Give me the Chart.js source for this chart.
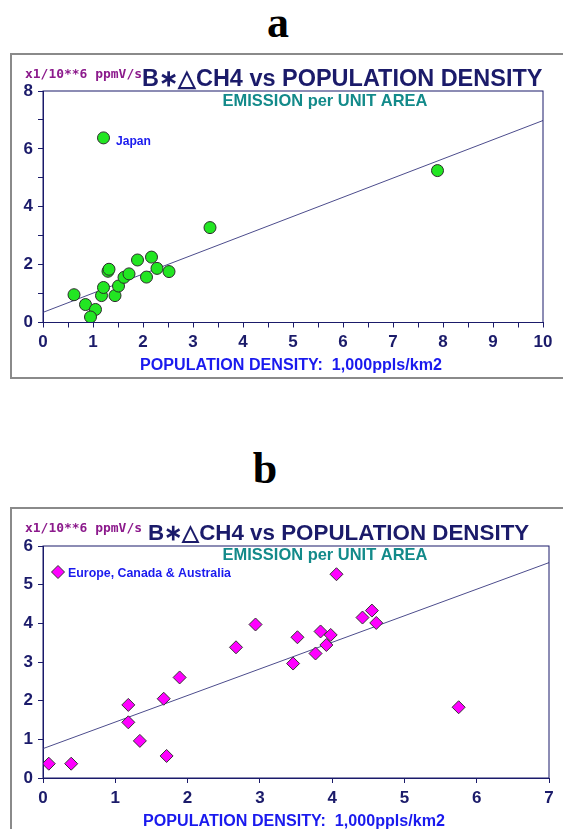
<!DOCTYPE html>
<html>
<head>
<meta charset="utf-8">
<script src="https://cdn.jsdelivr.net/npm/chart.js@4.4.1/dist/chart.umd.min.js"></script>
<style>
  body { margin: 0; background: #fff; width: 563px; height: 829px; overflow: hidden; position: relative; }
  .panel-label { position: absolute; width: 60px; text-align: center; font: bold 44px "Liberation Serif", serif; color: #000; }
  .frame { position: absolute; left: 10px; width: 600px; border: 2px solid #8a8a8a; box-sizing: border-box; }
  .plot { position: absolute; left: 0; width: 563px; }
</style>
</head>
<body>

<div class="panel-label" style="left:248px; top:-3px;">a</div>
<div class="panel-label" style="left:235px; top:443px;">b</div>

<div class="frame" style="top:53px; height:326px;"></div>
<div class="frame" style="top:507px; height:400px;"></div>

<div class="plot" style="top:0; height:400px;"><canvas id="chartA"></canvas></div>
<div class="plot" style="top:454px; height:375px;"><canvas id="chartB"></canvas></div>

<script>
// ---------- data ----------

// panel a: Japan + Asia, x = 1,000 ppl/km2, y = x1/10**6 ppmV/s
const densityA = [1.21, 7.89, 3.34, 0.62, 0.85, 1.05, 0.95, 1.17, 1.21, 1.30,
                  1.32, 1.44, 1.51, 1.62, 1.72, 1.89, 2.07, 2.17, 2.28, 2.52];
const emissionA = [6.38, 5.25, 3.28, 0.96, 0.62, 0.45, 0.19, 0.93, 1.21, 1.77,
                   1.84, 0.93, 1.26, 1.56, 1.68, 2.16, 1.57, 2.26, 1.87, 1.76];
const fitXA = [0, 10];
const fitYA = [0.35, 6.98];

// panel b: Europe, Canada & Australia
const densityB = [0.08, 0.39, 1.18, 1.18, 1.34, 1.67, 1.71, 1.89, 2.67, 2.94, 3.46,
                  3.52, 3.77, 3.84, 3.92, 3.98, 4.06, 4.42, 4.55, 4.61, 5.75];
const emissionB = [0.37, 0.37, 1.89, 1.44, 0.96, 2.05, 0.57, 2.60, 3.38, 3.97, 2.96,
                   3.64, 3.22, 3.79, 3.44, 3.70, 5.27, 4.15, 4.33, 4.01, 1.83];
const fitXB = [0, 7];
const fitYB = [0.76, 5.57];

const unitText = 'x1/10**6 ppmV/s';
const titleText = 'B\u2217\u25B3CH4 vs POPULATION DENSITY';
const subTitleText = 'EMISSION per UNIT AREA';
const xTitleText = 'POPULATION DENSITY:  1,000ppls/km2';
const japanText = 'Japan';
const legendTextB = 'Europe, Canada & Australia';

// ---------- colours ----------
const navy = '#1b1b6a';
const purple = '#8c1a8c';
const teal = '#138a8a';
const blue = '#1a1aee';
const fitColor = '#4c4c8c';

const toPoints = (xs, ys) => xs.map((x, i) => ({ x: x, y: ys[i] }));

// set the font so the text fills a given width
function fitFont(ctx, text, family, width) {
  ctx.font = 'bold 20px ' + family;
  let size = 20 * width / ctx.measureText(text).width;
  ctx.font = 'bold ' + size.toFixed(2) + 'px ' + family;
}

// plot box + the texts that sit around the plot
const extras = {
  id: 'extras',
  afterDraw(chart, args, opts) {
    const ctx = chart.ctx;
    const area = chart.chartArea;
    ctx.save();
    ctx.strokeStyle = navy;
    ctx.lineWidth = 1;
    ctx.strokeRect(area.left, area.top, area.right - area.left, area.bottom - area.top);

    opts.texts.forEach(t => {
      fitFont(ctx, t.text, t.family, t.width);
      ctx.fillStyle = t.color;
      ctx.textAlign = t.align || 'left';
      ctx.textBaseline = 'alphabetic';
      ctx.fillText(t.text, t.x, t.y);
    });

    if (opts.marker) {
      const m = opts.marker;
      ctx.beginPath();
      ctx.moveTo(m.x - m.r, m.y);
      ctx.lineTo(m.x, m.y - m.r);
      ctx.lineTo(m.x + m.r, m.y);
      ctx.lineTo(m.x, m.y + m.r);
      ctx.closePath();
      ctx.fillStyle = '#ff00ff';
      ctx.fill();
      ctx.strokeStyle = '#333';
      ctx.stroke();
    }
    ctx.restore();
  }
};

function axis(min, max, step, labelEvery, size, padding) {
  return {
    type: 'linear',
    min: min,
    max: max,
    afterFit: s => {
      if (s.isHorizontal()) s.height = size; else s.width = size;
    },
    ticks: {
      stepSize: step,
      autoSkip: false,
      maxRotation: 0,
      padding: padding,
      color: navy,
      font: { family: 'Liberation Sans', weight: 'bold', size: 17 },
      callback: v => (Math.abs(v / labelEvery - Math.round(v / labelEvery)) < 1e-6 ? v : '')
    },
    grid: { drawOnChartArea: false, drawTicks: true, tickLength: 5, color: navy },
    border: { color: navy, width: 1 }
  };
}

function headerTexts(titleLeft, titleWidth, xTitleX, xTitleY) {
  return [
    { text: unitText, x: 25, y: 78, width: 117, color: purple, family: '"DejaVu Sans Mono", monospace' },
    { text: titleText, x: titleLeft, y: 86, width: titleWidth, color: navy, family: '"Liberation Sans", sans-serif' },
    { text: subTitleText, x: 325, y: 106, width: 205, color: teal, align: 'center', family: '"Liberation Sans", sans-serif' },
    { text: xTitleText, x: xTitleX, y: xTitleY, width: 302, color: blue, align: 'center', family: '"Liberation Sans", sans-serif' }
  ];
}

// ---------- panel a ----------
new Chart(document.getElementById('chartA'), {
  type: 'scatter',
  data: {
    datasets: [
      {
        data: toPoints(densityA, emissionA),
        pointStyle: 'circle',
        pointRadius: 6,
        backgroundColor: '#22e622',
        borderColor: '#2b2b2b',
        borderWidth: 1
      },
      {
        type: 'line',
        data: toPoints(fitXA, fitYA),
        pointRadius: 0,
        borderColor: fitColor,
        borderWidth: 1,
        fill: false
      }
    ]
  },
  options: {
    responsive: true,
    maintainAspectRatio: false,
    animation: false,
    layout: { padding: { top: 91, right: 20, left: 0, bottom: 0 } },
    scales: {
      x: axis(0, 10, 0.5, 1, 77.5, 5),
      y: axis(0, 8, 1, 2, 43, 5)
    },
    plugins: {
      legend: { display: false },
      tooltip: { enabled: false },
      extras: {
        texts: headerTexts(142, 401, 291, 370).concat([
          { text: japanText, x: 116, y: 145, width: 35, color: blue, family: '"Liberation Sans", sans-serif' }
        ])
      }
    }
  },
  plugins: [extras]
});

// ---------- panel b ----------
new Chart(document.getElementById('chartB'), {
  type: 'scatter',
  data: {
    datasets: [
      {
        data: toPoints(densityB, emissionB),
        pointStyle: 'rectRot',
        pointRadius: 6.5,
        backgroundColor: '#ff00ff',
        borderColor: '#333',
        borderWidth: 1
      },
      {
        type: 'line',
        data: toPoints(fitXB, fitYB),
        pointRadius: 0,
        borderColor: fitColor,
        borderWidth: 1,
        fill: false
      }
    ]
  },
  options: {
    responsive: true,
    maintainAspectRatio: false,
    animation: false,
    layout: { padding: { top: 92, right: 14, left: 0, bottom: 0 } },
    scales: {
      x: axis(0, 7, 1, 1, 51, 5),
      y: axis(0, 6, 1, 1, 43, 5)
    },
    plugins: {
      legend: { display: false },
      tooltip: { enabled: false },
      extras: {
        texts: headerTexts(148, 382, 294, 372).concat([
          { text: legendTextB, x: 68, y: 123, width: 163, color: blue, family: '"Liberation Sans", sans-serif' }
        ]),
        marker: { x: 58, y: 118, r: 6.5 }
      }
    }
  },
  plugins: [extras]
});
</script>
</body>
</html>
